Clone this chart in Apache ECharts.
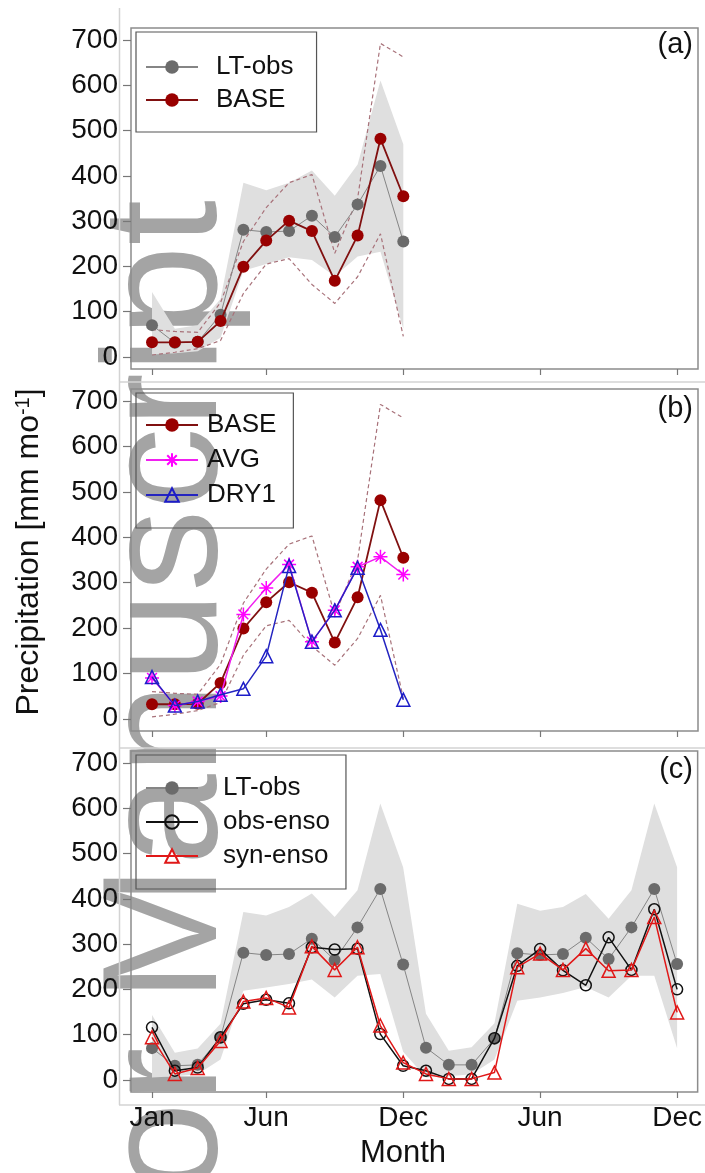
<!DOCTYPE html>
<html><head><meta charset="utf-8">
<script src="https://cdn.jsdelivr.net/npm/echarts@6/dist/echarts.min.js"></script>
<style>html,body{margin:0;padding:0;background:#fff}#c{width:705px;height:1173px}</style>
</head><body><div id="c"></div>
<script>
// ---------- data ----------
const monthsA = ['Jan','Feb','Mar','Apr','May','Jun','Jul','Aug','Sep','Oct','Nov','Dec'];
const monthsC = monthsA.concat(monthsA);
const xTickPos = [0, 5, 11, 17, 23];
const xTickLabels = ['Jan', 'Jun', 'Dec', 'Jun', 'Dec'];
const yTicks = [0, 100, 200, 300, 400, 500, 600, 700];

// panel (a)
const ltObsA     = [70, 31, 33, 93, 281, 276, 278, 312, 265, 337, 422, 255];
const baseP      = [32, 32, 33, 79, 199, 257, 301, 278, 168, 268, 482, 355];
const baseUpper  = [60, 56, 54, 120, 255, 330, 385, 403, 229, 350, 693, 663];
const baseLower  = [4, 10, 18, 36, 140, 205, 217, 160, 118, 177, 272, 45];
const bandUpperA = [143, 62, 70, 128, 385, 368, 385, 412, 356, 425, 611, 470];
const bandLowerA = [5, 8, 12, 42, 190, 205, 220, 214, 178, 222, 232, 62];
// panel (b)
const avgP  = [90, 29, 38, 50, 230, 288, 340, 170, 239, 335, 357, 318];
const dry1P = [92, 29, 38, 53, 66, 138, 337, 170, 239, 333, 196, 42];
// panel (c)
const ltObsC   = [70, 31, 33, 93, 281, 276, 278, 312, 265, 337, 422, 255, 71, 33, 33, 91, 280, 276, 278, 314, 267, 337, 422, 256];
const obsEnso  = [116, 20, 27, 94, 168, 177, 169, 293, 288, 290, 101, 31, 20, 2, 2, 92, 252, 289, 242, 209, 315, 243, 377, 200];
const synEnso  = [94, 13, 26, 86, 173, 181, 160, 295, 243, 293, 120, 38, 13, 2, 2, 16, 249, 279, 243, 290, 241, 243, 360, 149];
const bandUpperC = [143, 60, 69, 124, 371, 363, 382, 412, 360, 419, 611, 470, 146, 64, 72, 125, 389, 374, 382, 411, 356, 419, 611, 470];
const bandLowerC = [5, 8, 12, 45, 197, 204, 212, 222, 182, 230, 234, 62, 5, 8, 12, 45, 175, 182, 192, 205, 182, 230, 230, 70];

// ---------- chart ----------
const FONT = '"Liberation Sans", Arial, sans-serif';
const chart = echarts.init(document.getElementById('c'), null, {renderer: 'canvas', width: 705, height: 1173});
const pts = (cats, arr) => cats.slice(0, arr.length).map((m, i) => [i, arr[i]]);

const gridBoxes = [
  {left: 131, top: 28, width: 567, height: 341},
  {left: 131, top: 389, width: 567, height: 342},
  {left: 131, top: 751, width: 567, height: 341}
];
const grids = gridBoxes.map(g => Object.assign({show: true, borderColor: '#8c8c8c', borderWidth: 1.5, backgroundColor: 'rgba(0,0,0,0)'}, g));

const xAxes = [0, 1, 2].map(i => ({
  type: 'value', gridIndex: i, min: -0.92, max: 23.9, position: 'bottom',
  axisLine: {show: false, onZero: false}, splitLine: {show: false},
  axisTick: {show: true, customValues: xTickPos, length: 6, lineStyle: {color: '#777', width: 1.2}},
  axisLabel: {show: i === 2, customValues: xTickPos, formatter: v => xTickLabels[xTickPos.indexOf(v)],
    fontSize: 28, color: '#111', fontFamily: FONT, margin: 12}
}));
const yAxes = [0, 1, 2].map(i => ({
  type: 'value', gridIndex: i, min: -27, max: 727, position: 'left',
  axisLine: {show: false, onZero: false}, splitLine: {show: false},
  axisTick: {show: true, customValues: yTicks, length: 8, lineStyle: {color: '#777', width: 1.2}},
  axisLabel: {customValues: yTicks, fontSize: 28, color: '#111', fontFamily: FONT, margin: 13}
}));

function band(gi, cats, up, lo) {
  return {
    type: 'custom', name: 'band' + gi, xAxisIndex: gi, yAxisIndex: gi, silent: true, z: 1,
    data: [[0, up[0]]],
    renderItem: (params, api) => {
      if (params.dataIndex !== 0) return;
      const p = [];
      up.forEach((v, i) => p.push(api.coord([i, v])));
      for (let i = lo.length - 1; i >= 0; i--) p.push(api.coord([i, lo[i]]));
      return {type: 'polygon', shape: {points: p}, style: {fill: '#dfdfdf'}};
    }
  };
}
function dashed(gi, name, arr) {
  return {type: 'line', name, xAxisIndex: gi, yAxisIndex: gi, data: pts(monthsA, arr), symbol: 'none', silent: true,
    lineStyle: {color: '#a8727a', width: 1.2, type: [4, 3]}, z: 2};
}
const styles = {
  'LT-obs': {symbol: 'circle', symbolSize: 12, itemStyle: {color: '#6b6b6b'}, lineStyle: {color: '#858585', width: 1}, z: 3},
  'BASE': {symbol: 'circle', symbolSize: 12, itemStyle: {color: '#990000'}, lineStyle: {color: '#801010', width: 1.8}, z: 4},
  'AVG': {symbol: 'path://M10,0L10,20M0,10L20,10M3,3L17,17M3,17L17,3', symbolSize: 14,
    itemStyle: {color: '#ff00ff', borderColor: '#ff00ff', borderWidth: 1.5}, lineStyle: {color: '#f020f0', width: 1.5}, z: 5},
  'DRY1': {symbol: 'triangle', symbolSize: 13, itemStyle: {color: 'rgba(255,255,255,0)', borderColor: '#1c1cc8', borderWidth: 1.5},
    lineStyle: {color: '#2424c0', width: 1.5}, z: 6},
  'obs-enso': {symbol: 'circle', symbolSize: 11, itemStyle: {color: 'rgba(255,255,255,0)', borderColor: '#111', borderWidth: 1.5},
    lineStyle: {color: '#111', width: 1.5}, z: 5},
  'syn-enso': {symbol: 'triangle', symbolSize: 13, itemStyle: {color: 'rgba(255,255,255,0)', borderColor: '#e01818', borderWidth: 1.5},
    lineStyle: {color: '#e01818', width: 1.5}, z: 6}
};
function ser(gi, name, cats, arr) {
  return Object.assign({type: 'line', name, xAxisIndex: gi, yAxisIndex: gi, data: pts(cats, arr), silent: true}, styles[name]);
}

const series = [
  band(0, monthsA, bandUpperA, bandLowerA),
  dashed(0, 'BASE upper a', baseUpper), dashed(0, 'BASE lower a', baseLower),
  ser(0, 'LT-obs', monthsA, ltObsA), ser(0, 'BASE', monthsA, baseP),
  dashed(1, 'BASE upper b', baseUpper), dashed(1, 'BASE lower b', baseLower),
  ser(1, 'BASE', monthsA, baseP), ser(1, 'AVG', monthsA, avgP), ser(1, 'DRY1', monthsA, dry1P),
  band(2, monthsC, bandUpperC, bandLowerC),
  ser(2, 'LT-obs', monthsC, ltObsC), ser(2, 'obs-enso', monthsC, obsEnso), ser(2, 'syn-enso', monthsC, synEnso)
];

function legend(top, names, pad, gap, textPad) {
  return {orient: 'vertical', left: 136, top, data: names, itemWidth: 52, itemHeight: 17, itemGap: gap,
    padding: pad, borderColor: '#555', borderWidth: 1.2, selectedMode: false, backgroundColor: 'rgba(0,0,0,0)',
    textStyle: {fontSize: 26, color: '#111', fontFamily: FONT, padding: [0, 0, 0, textPad]}};
}

const graphic = {elements: [
  {type: 'text', x: 171, y: 200, rotation: Math.PI / 2, z: -1, silent: true,
    style: {text: 'Author Manuscript', fontSize: 164, fontFamily: FONT, fill: '#a4a4a4', align: 'right', verticalAlign: 'middle'}},
  {type: 'line', shape: {x1: 119.5, y1: 8, x2: 119.5, y2: 1105}, style: {stroke: '#d3d3d3', lineWidth: 1.5}},
  {type: 'line', shape: {x1: 119, y1: 382, x2: 705, y2: 382}, style: {stroke: '#d3d3d3', lineWidth: 1.5}},
  {type: 'line', shape: {x1: 119, y1: 748, x2: 705, y2: 748}, style: {stroke: '#d3d3d3', lineWidth: 1.5}},
  {type: 'line', shape: {x1: 119, y1: 1105, x2: 705, y2: 1105}, style: {stroke: '#d3d3d3', lineWidth: 1.5}},
  {type: 'text', x: 29, y: 552, rotation: Math.PI / 2,
    style: {text: '{a|Precipitation [mm mo}{s|-1}{a|]}', align: 'center', verticalAlign: 'middle',
      rich: {a: {fontSize: 32, fontFamily: FONT, fill: '#111', color: '#111'},
             s: {fontSize: 20, fontFamily: FONT, fill: '#111', color: '#111', verticalAlign: 'top'}}}},
  {type: 'text', x: 403, y: 1153, style: {text: 'Month', fontSize: 31, fontFamily: FONT, fill: '#111', align: 'center', verticalAlign: 'middle'}},
  {type: 'text', x: 693, y: 45, style: {text: '(a)', fontSize: 29, fontFamily: FONT, fill: '#111', align: 'right', verticalAlign: 'middle'}},
  {type: 'text', x: 693, y: 409, style: {text: '(b)', fontSize: 29, fontFamily: FONT, fill: '#111', align: 'right', verticalAlign: 'middle'}},
  {type: 'text', x: 693, y: 770, style: {text: '(c)', fontSize: 29, fontFamily: FONT, fill: '#111', align: 'right', verticalAlign: 'middle'}}
]};

chart.setOption({
  animation: false,
  backgroundColor: '#fff',
  grid: grids, xAxis: xAxes, yAxis: yAxes, series,
  legend: [
    legend(32, ['LT-obs', 'BASE'], [22, 23, 19, 9], 7, 13),
    legend(393, ['BASE', 'AVG', 'DRY1'], [19, 17, 20, 9], 9, 4),
    legend(755, ['LT-obs', 'obs-enso', 'syn-enso'], [20, 16, 20, 9], 8, 20)
  ],
  graphic
});
</script></body></html>
